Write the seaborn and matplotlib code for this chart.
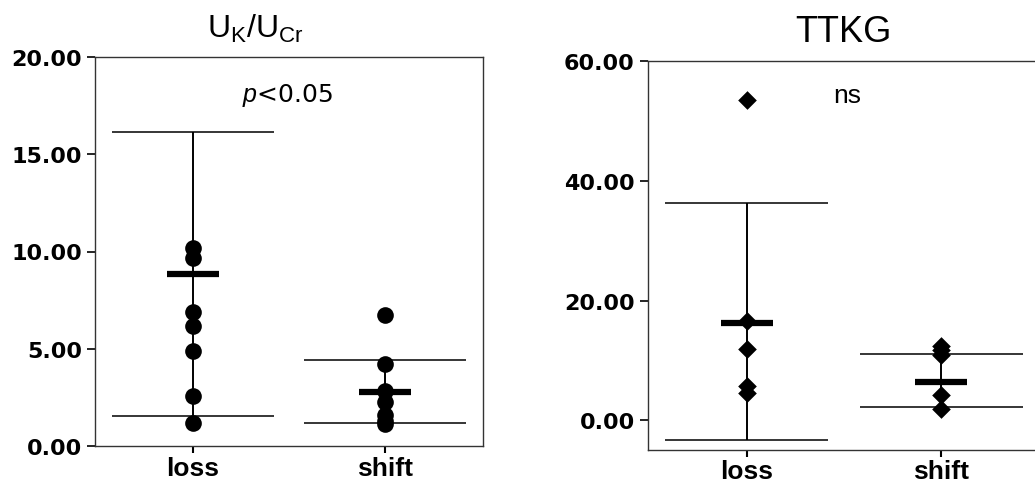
import numpy as np
import pandas as pd
import matplotlib
matplotlib.use("Agg")
import matplotlib.pyplot as plt
import seaborn as sns

# ---------------- data ----------------
groups = ["loss", "shift"]

ukucr_loss = [10.16, 9.65, 6.87, 6.19, 4.87, 2.55, 1.18]
ukucr_shift = [6.74, 4.21, 2.84, 2.25, 1.60, 1.30, 1.13]
ukucr_center = [8.83, 2.76]
ukucr_upper = [16.16, 4.42]
ukucr_lower = [1.56, 1.18]

ttkg_loss = [53.5, 16.6, 12.0, 5.7, 4.6]
ttkg_shift = [12.5, 11.7, 10.9, 4.3, 1.9]
ttkg_center = [16.2, 6.5]
ttkg_upper = [36.3, 11.15]
ttkg_lower = [-3.3, 2.3]

ukucr_ticks = [0, 5, 10, 15, 20]
ttkg_ticks = [0, 20, 40, 60]

panel_titles = [r"U$_\mathrm{K}$/U$_\mathrm{Cr}$", "TTKG"]
annotations = [r"$\it{p}$<0.05", "ns"]

# ---------------- style ----------------
sns.set_theme(style="white")
plt.rcParams["font.family"] = ["Liberation Sans", "DejaVu Sans"]
plt.rcParams["mathtext.fontset"] = "custom"
plt.rcParams["mathtext.rm"] = "Liberation Sans"
plt.rcParams["mathtext.it"] = "Liberation Sans:italic"
plt.rcParams["text.color"] = "black"
plt.rcParams["xtick.color"] = "black"
plt.rcParams["ytick.color"] = "black"

W, H = 1035, 489
fig = plt.figure(figsize=(W / 100, H / 100), dpi=100)


def make_df(a, b):
    return pd.DataFrame({
        "group": ["loss"] * len(a) + ["shift"] * len(b),
        "value": list(a) + list(b),
    })


def panel(rect, df, center, upper, lower, ylim, yticks, marker, msize,
          show_right):
    ax = fig.add_axes(rect)
    xs = np.arange(len(groups))
    # stems, whiskers, centre bars
    ax.vlines(xs, lower, upper, color="black", lw=1.4, zorder=1)
    ax.hlines(upper, xs - 0.42, xs + 0.42, color="black", lw=1.1, zorder=1)
    ax.hlines(lower, xs - 0.42, xs + 0.42, color="black", lw=1.1, zorder=1)
    ax.hlines(center, xs - 0.135, xs + 0.135, color="black", lw=4.5,
              zorder=3, capstyle="butt")
    sns.stripplot(data=df, x="group", y="value", order=groups, jitter=False,
                  color="black", marker=marker, size=msize, linewidth=0,
                  ax=ax, zorder=2)
    ax.set_xlim(-0.51, 1.51)
    ax.set_ylim(*ylim)
    ax.set_yticks(yticks)
    ax.set_yticklabels([f"{t:.2f}" for t in yticks],
                       fontfamily="DejaVu Sans", fontweight="bold",
                       fontsize=16, color="black")
    ax.set_xticks(xs)
    ax.set_xticklabels(groups, fontfamily=["Liberation Sans Narrow",
                                           "Liberation Sans"],
                       fontweight="bold", fontsize=19, color="black")
    ax.set_xlabel("")
    ax.set_ylabel("")
    ax.tick_params(axis="y", left=True, length=6, width=1.2, pad=3.5,
                   colors="black")
    ax.tick_params(axis="x", bottom=True, length=5, width=1.5, pad=2,
                   colors="black")
    for s in ax.spines.values():
        s.set_color("#333333")
        s.set_linewidth(1.0)
    ax.spines["right"].set_visible(show_right)
    return ax


axL = panel([95 / W, 42 / H, 388 / W, 389 / H],
            make_df(ukucr_loss, ukucr_shift), ukucr_center, ukucr_upper,
            ukucr_lower, (0, 20), ukucr_ticks, "o", 12, True)
axR = panel([648 / W, 38.5 / H, 392 / W, 388.5 / H],
            make_df(ttkg_loss, ttkg_shift), ttkg_center, ttkg_upper,
            ttkg_lower, (-4.85, 60), ttkg_ticks, "D", 9.5, False)

axL.text(0.49, 17.74, annotations[0], ha="center", va="baseline",
         fontsize=18, fontfamily="DejaVu Sans", color="black")
axR.text(0.515, 53.2, annotations[1], ha="center", va="baseline",
         fontsize=19, fontfamily="Liberation Sans", color="black")

fig.text(255 / W, 1 - 38 / H, panel_titles[0], ha="center", va="baseline",
         fontsize=23, color="black")
fig.text(843 / W, 1 - 42 / H, panel_titles[1], ha="center", va="baseline",
         fontsize=26, color="black")

fig.savefig("out.png", dpi=100)
